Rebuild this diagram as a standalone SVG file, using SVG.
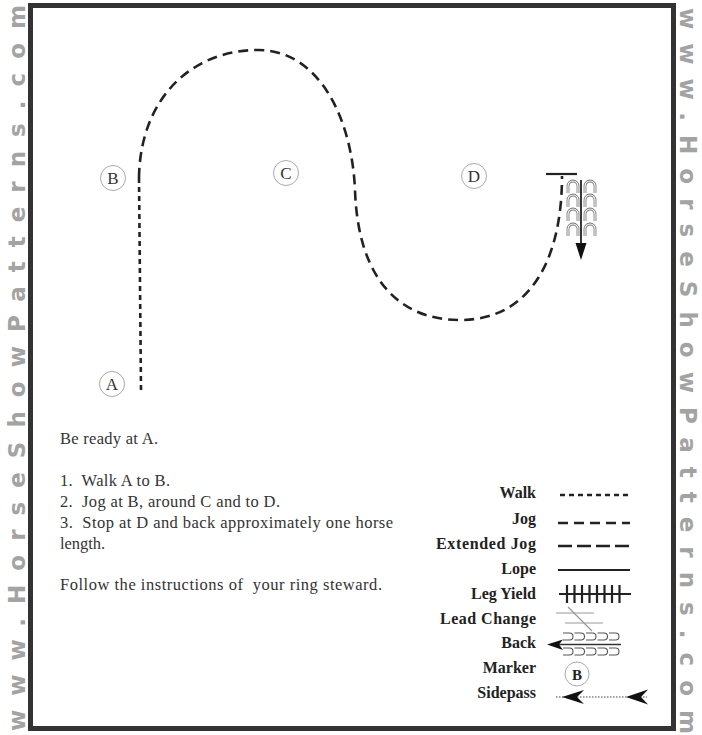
<svg xmlns="http://www.w3.org/2000/svg" width="702" height="735" viewBox="0 0 702 735">
<defs>
<style>
.wm{font-family:"DejaVu Sans",sans-serif;font-weight:bold;font-size:23px;fill:#a3a3a3}
.mk{font-family:"Liberation Serif",serif;font-size:17px;fill:#333;text-anchor:middle}
.mc{fill:#fff;stroke:#aaa;stroke-width:1}
.ins{font-family:"Liberation Serif",serif;font-size:16.5px;fill:#333;white-space:pre}
.lg{font-family:"Liberation Serif",serif;font-weight:bold;font-size:16px;fill:#222;text-anchor:end}
.walk{fill:none;stroke:#222;stroke-width:2.6;stroke-dasharray:5 4}
.jog{fill:none;stroke:#222;stroke-width:2.6;stroke-dasharray:10 6}
.ext{fill:none;stroke:#222;stroke-width:2.4;stroke-dasharray:14 5}
.solid{fill:none;stroke:#222;stroke-width:2.2}
.gray{fill:none;stroke:#999;stroke-width:1.2}
.arch{fill:none;stroke:#777;stroke-width:2.8}
.archin{fill:none;stroke:#fff;stroke-width:1.1}
.archh{fill:none;stroke:#555;stroke-width:1.1}
</style>
<g id="archV">
<path class="arch" d="M0,12 V5 A5,5 0 0 1 10,5 V12"/>
<path class="archin" d="M0,12 V5 A5,5 0 0 1 10,5 V12"/>
</g>
<path id="archH" class="archh" d="M0,0 H6.5 A3.5,3.5 0 0 1 6.5,7 H0"/>
</defs>
<rect width="702" height="735" fill="#fff"/>

<g id="watermark">
<text class="wm" transform="translate(25,731) rotate(-90)" textLength="726" lengthAdjust="spacing">www.HorseShowPatterns.com</text>
<text class="wm" transform="translate(680,8) rotate(90)" textLength="726" lengthAdjust="spacing">www.HorseShowPatterns.com</text>
</g>

<rect id="border" x="30.5" y="5.5" width="643" height="723" fill="none" stroke="#333" stroke-width="5"/>

<g id="connectors">
<path class="walk" d="M141,390 L139,178"/>
<path class="jog" d="M139,178 C140,100 190,50 258,50 C320,50 352,120 355,190 C358,280 400,320 460,320 C530,320 562,260 562,176"/>
<line class="solid" x1="546" y1="174" x2="577" y2="174" stroke-width="2.6"/>
</g>

<g id="back-symbol">
<use href="#archV" x="568" y="181"/>
<use href="#archV" x="585" y="181"/>
<use href="#archV" x="568" y="195"/>
<use href="#archV" x="585" y="195"/>
<use href="#archV" x="568" y="209"/>
<use href="#archV" x="585" y="209"/>
<use href="#archV" x="568" y="224"/>
<use href="#archV" x="585" y="224"/>
<line x1="581" y1="180" x2="581" y2="246" stroke="#222" stroke-width="1.8"/>
<path d="M575.5,243 L586.5,243 L581,260 Z" fill="#111"/>
</g>

<g id="marker-A"><circle class="mc" cx="112" cy="384" r="12.5"/><text class="mk" x="112" y="390">A</text></g>
<g id="marker-B"><circle class="mc" cx="113" cy="178" r="12.5"/><text class="mk" x="113" y="184">B</text></g>
<g id="marker-C"><circle class="mc" cx="286" cy="173" r="12.5"/><text class="mk" x="286" y="179">C</text></g>
<g id="marker-D"><circle class="mc" cx="474" cy="176" r="12.5"/><text class="mk" x="474" y="182">D</text></g>

<g id="instructions">
<text class="ins" x="60" y="444" textLength="98">Be ready at A.</text>
<text class="ins" x="60" y="486" textLength="110">1.  Walk A to B.</text>
<text class="ins" x="60" y="507" textLength="220">2.  Jog at B, around C and to D.</text>
<text class="ins" x="60" y="528" textLength="333">3.  Stop at D and back approximately one horse</text>
<text class="ins" x="60" y="549" textLength="45">length.</text>
<text class="ins" x="60" y="590" textLength="322">Follow the instructions of  your ring steward.</text>
</g>

<g id="legend">
<text class="lg" x="536" y="498">Walk</text>
<text class="lg" x="536" y="524">Jog</text>
<text class="lg" x="536" y="549" textLength="100">Extended Jog</text>
<text class="lg" x="536" y="574">Lope</text>
<text class="lg" x="536" y="599">Leg Yield</text>
<text class="lg" x="536" y="624" textLength="96">Lead Change</text>
<text class="lg" x="536" y="648">Back</text>
<text class="lg" x="536" y="673">Marker</text>
<text class="lg" x="536" y="698">Sidepass</text>

<line class="walk" x1="560" y1="495" x2="632" y2="495" stroke-width="2"/>
<line class="jog" x1="558" y1="523" x2="630" y2="523" stroke-width="2"/>
<line class="ext" x1="558" y1="546" x2="631" y2="546" stroke-dasharray="13 5"/>
<line class="solid" x1="558" y1="570" x2="630" y2="570"/>
<g id="legyield">
<line class="solid" x1="559" y1="594" x2="631" y2="594" stroke-width="2"/>
<path class="solid" stroke-width="1.8" d="M567,585V603M574.5,585V603M582,585V603M589.5,585V603M597,585V603M604.5,585V603M612,585V603M619.5,585V603"/>
</g>
<g id="leadchange">
<line class="gray" x1="556" y1="613" x2="594" y2="613"/>
<line class="gray" x1="565" y1="623" x2="603" y2="623"/>
<line class="gray" x1="568" y1="607" x2="592" y2="631"/>
</g>
<g id="back-legend">
<use href="#archH" x="563" y="633"/>
<use href="#archH" x="574.5" y="633"/>
<use href="#archH" x="586" y="633"/>
<use href="#archH" x="597.5" y="633"/>
<use href="#archH" x="609" y="633"/>
<use href="#archH" x="563" y="648"/>
<use href="#archH" x="574.5" y="648"/>
<use href="#archH" x="586" y="648"/>
<use href="#archH" x="597.5" y="648"/>
<use href="#archH" x="609" y="648"/>
<line x1="555" y1="644.5" x2="621" y2="644.5" stroke="#333" stroke-width="1.3"/>
<path d="M547,644.5 L563,639.5 L559,644.5 L563,650 Z" fill="#111"/>
</g>
<g id="marker-legend">
<circle class="mc" cx="577" cy="674" r="12"/>
<text x="577" y="679.5" font-family="Liberation Serif,serif" font-weight="bold" font-size="15" fill="#222" text-anchor="middle">B</text>
</g>
<g id="sidepass">
<line x1="556" y1="697" x2="647" y2="697" stroke="#444" stroke-width="1" stroke-dasharray="1.5 1.5"/>
<path d="M562,697 L584,690 L577,697 L584,704 Z" fill="#111"/>
<path d="M626,697 L648,689.5 L641,697 L648,704.5 Z" fill="#111"/>
</g>
</g>
</svg>
